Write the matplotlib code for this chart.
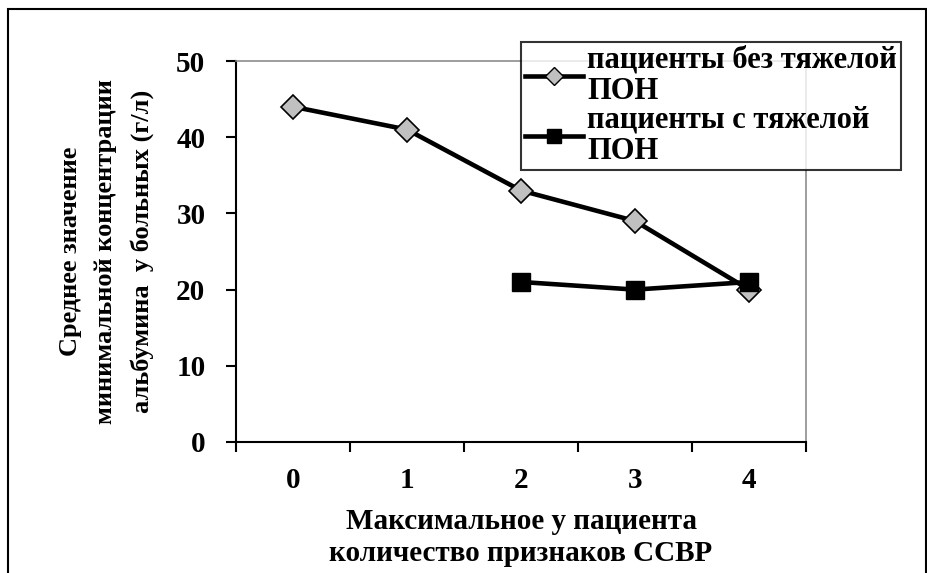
import matplotlib.pyplot as plt
from matplotlib.patches import Rectangle
from matplotlib.lines import Line2D

# данные
categories = [0, 1, 2, 3, 4]
without_severe = [44, 41, 33, 29, 20]
with_severe_x = [2, 3, 4]
with_severe = [21, 20, 21]
y_ticks = [0, 10, 20, 30, 40, 50]
legend_labels = ['пациенты без тяжелой\nПОН', 'пациенты с тяжелой\nПОН']

plt.rcParams['font.family'] = ['Liberation Serif', 'DejaVu Serif']
plt.rcParams['font.weight'] = 'bold'

fig = plt.figure(figsize=(9.28, 5.73), dpi=100)
ax = fig.add_axes([236 / 928, 1 - 442 / 573, 570 / 928, 381 / 573])

ax.plot(categories, without_severe, color='black', lw=3.3, marker='D', ms=12,
        mfc='#c0c0c0', mec='black', mew=1.2, zorder=3)
ax.plot(with_severe_x, with_severe, color='black', lw=3.3, marker='s', ms=13,
        mfc='black', mec='black', zorder=4)

ax.set_xlim(-0.5, 4.5)
ax.set_ylim(0, 50)
ax.set_yticks(y_ticks)
ax.set_yticklabels([str(v) for v in y_ticks], fontsize=21, fontweight='bold')
ax.set_xticks([c - 0.5 for c in categories] + [4.5])
ax.set_xticklabels([])
ax.set_xticks(categories, minor=True)
ax.set_xticklabels([str(c) for c in categories], minor=True, fontsize=21, fontweight='bold')
ax.tick_params(axis='x', which='major', length=7, width=1.5, direction='out')
ax.tick_params(axis='x', which='minor', length=0, pad=18)
ax.tick_params(axis='y', length=7, width=1.5, pad=15)

for s in ['left', 'bottom']:
    ax.spines[s].set_linewidth(1.5)
    ax.spines[s].set_color('black')
for s in ['top', 'right']:
    ax.spines[s].set_linewidth(1.2)
    ax.spines[s].set_color('#8c8c8c')

ax.set_xlabel('Максимальное у пациента\nколичество признаков ССВР', fontsize=21,
              fontweight='bold', linespacing=1.25)
ax.xaxis.set_label_coords(0.5, (442 - 508) / 381)
ax.set_ylabel('Среднее значение\nминимальной концентрации\nальбумина  у больных (г/л)',
              fontsize=19, fontweight='bold', linespacing=1.7)
ax.yaxis.set_label_coords((154 - 236) / 570, 0.5)

handles = [Line2D([], [], color='black', lw=3.3, marker='D', ms=9, mfc='#c0c0c0', mec='black'),
           Line2D([], [], color='black', lw=3.3, marker='s', ms=10, mfc='black', mec='black')]
leg = fig.legend(handles, legend_labels,
                 loc='upper left', bbox_to_anchor=(521 / 928, 1 - 42 / 573),
                 prop={'family': 'Liberation Serif', 'weight': 'bold', 'size': 22},
                 frameon=True, fancybox=False, handlelength=1.9, handletextpad=0.15,
                 borderpad=0.12, labelspacing=0.0, borderaxespad=0)
leg.get_frame().set_edgecolor('black')
leg.get_frame().set_linewidth(1.5)
for t in leg.get_texts():
    t.set_linespacing(1.1)

# рамка вокруг рисунка
fig.patches.append(Rectangle((8 / 928, -0.05), 918 / 928, 1.05 - 9 / 573,
                             transform=fig.transFigure, fill=False,
                             edgecolor='black', lw=1.5))

fig.savefig('out.png', dpi=100)
